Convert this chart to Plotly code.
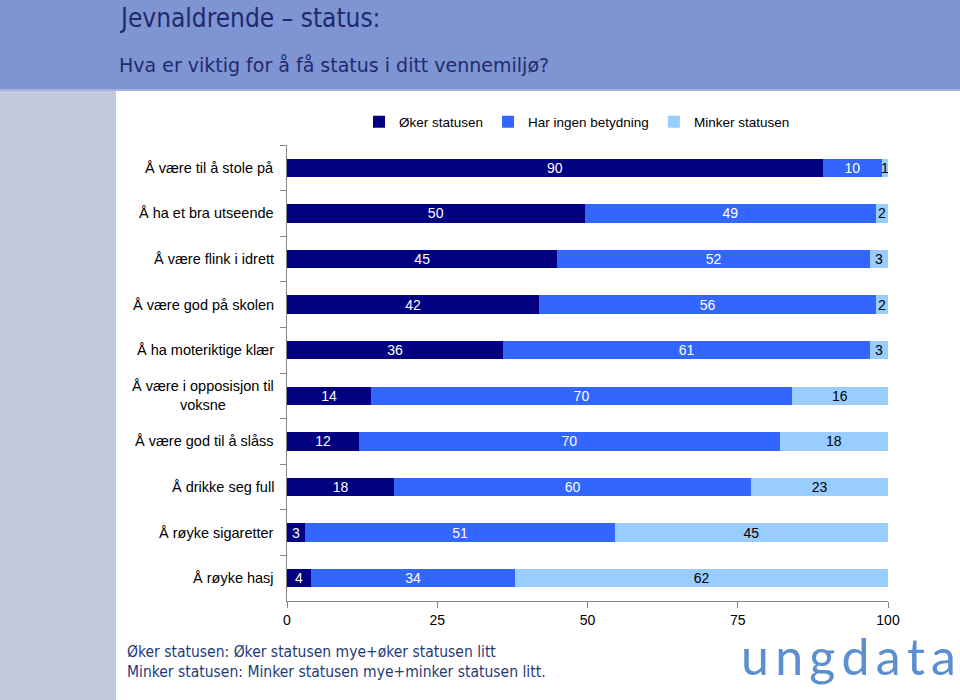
import plotly.graph_objects as go

categories = [
    "Å være til å stole på",
    "Å ha et bra utseende",
    "Å være flink i idrett",
    "Å være god på skolen",
    "Å ha moteriktige klær",
    "Å være i opposisjon til<br>voksne",
    "Å være god til å slåss",
    "Å drikke seg full",
    "Å røyke sigaretter",
    "Å røyke hasj",
]
oker = [90, 50, 45, 42, 36, 14, 12, 18, 3, 4]
ingen = [10, 49, 52, 56, 61, 70, 70, 60, 51, 34]
minker = [1, 2, 3, 2, 3, 16, 18, 23, 45, 62]
series_names = ["Øker statusen", "Har ingen betydning", "Minker statusen"]
x_ticks = [0, 25, 50, 75, 100]

L, R, T, B = 287, 888, 145, 601
W, H = 960, 700
def px(x):
    return (x - L) / (R - L)
def py(y):
    return (B - y) / (B - T)

fig = go.Figure()
colors = ["#000080", "#3366ff", "#99ccff"]
tcolors = ["white", "white", "black"]
for name, vals, c, tc in zip(series_names, [oker, ingen, minker], colors, tcolors):
    fig.add_trace(go.Bar(
        y=categories, x=vals, name=name, orientation="h",
        marker=dict(color=c, line=dict(width=0)),
        text=[str(v) for v in vals], textposition="inside", textangle=0,
        insidetextanchor="middle",
        textfont=dict(color=tc, size=14, family="Liberation Sans, Arial"),
        width=0.4, hoverinfo="skip",
    ))

shapes = [
    dict(type="rect", xref="paper", yref="paper", x0=px(0), x1=px(W), y0=py(89), y1=py(0),
         fillcolor="#7f94d2", line=dict(width=0), layer="below"),
    dict(type="rect", xref="paper", yref="paper", x0=px(0), x1=px(W), y0=py(91), y1=py(89),
         fillcolor="#a4b4e0", line=dict(width=0), layer="below"),
    dict(type="rect", xref="paper", yref="paper", x0=px(0), x1=px(116), y0=py(H), y1=py(91),
         fillcolor="#c0cadc", line=dict(width=0), layer="below"),
]

logo = "\u2009".join("ungdata")
annotations = [
    dict(text="Jevnaldrende – status:", xref="paper", yref="paper", x=px(117), y=py(18),
         xanchor="left", yanchor="middle", showarrow=False,
         font=dict(family="DejaVu Sans Condensed, DejaVu Sans", size=26, color="#1f2a6e")),
    dict(text="Hva er viktig for å få status i ditt vennemiljø?", xref="paper", yref="paper",
         x=px(117), y=py(65), xanchor="left", yanchor="middle", showarrow=False,
         font=dict(family="DejaVu Sans", size=19, color="#1f2a6e")),
    dict(text="Øker statusen: Øker statusen mye+øker statusen litt<br>Minker statusen: Minker statusen mye+minker statusen litt.",
         xref="paper", yref="paper", x=px(125), y=py(662), xanchor="left", yanchor="middle",
         align="left", showarrow=False,
         font=dict(family="DejaVu Sans Condensed, DejaVu Sans", size=15.5, color="#1f3a7a")),
    dict(text=logo, xref="paper", yref="paper", x=px(958), y=py(656), xanchor="right",
         yanchor="middle", showarrow=False,
         font=dict(family="Lato", size=50, color="#5b8fcf", weight=400)),
]
for cat in categories:
    annotations.append(dict(text=cat, xref="paper", yref="y", x=px(276), y=cat,
                            xanchor="right", yanchor="middle", align="center", showarrow=False,
                            font=dict(family="Liberation Sans, Arial", size=14.5, color="black")))

fig.update_layout(
    barmode="stack", barnorm="percent",
    width=W, height=H,
    margin=dict(l=L, r=W - R, t=T, b=H - B, pad=0),
    paper_bgcolor="white", plot_bgcolor="white",
    shapes=shapes, annotations=annotations,
    uniformtext=dict(minsize=14, mode="show"),
    legend=dict(orientation="h", x=px(577), y=py(122), xanchor="center", yanchor="middle",
                font=dict(family="Liberation Sans, Arial", size=13.5, color="black"),
                traceorder="normal", itemwidth=30, bgcolor="rgba(0,0,0,0)"),
    xaxis=dict(range=[0, 100], tickvals=x_ticks, ticktext=[str(v) for v in x_ticks],
               showgrid=False, zeroline=False, showline=True, linecolor="#888888",
               ticks="outside", ticklen=6, tickcolor="#888888",
               tickfont=dict(family="Liberation Sans, Arial", size=14, color="black")),
    yaxis=dict(autorange="reversed", showgrid=False, zeroline=False, showline=True,
               linecolor="#888888", ticks="outside", tickson="boundaries", ticklen=6,
               tickcolor="#888888", showticklabels=False),
)

fig.write_html("out.html", config={"displayModeBar": False})
with open("out.html", encoding="utf-8") as f:
    html = f.read()
html = html.replace("<head>", "<head><style>html,body{margin:0;padding:0;overflow:hidden;}</style>", 1)
with open("out.html", "w", encoding="utf-8") as f:
    f.write(html)
